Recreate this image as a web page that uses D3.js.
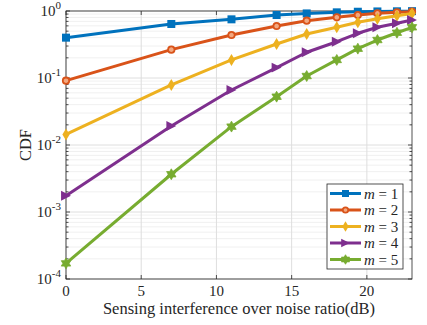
<!DOCTYPE html>
<html>
<head>
<meta charset="utf-8">
<script src="https://cdn.jsdelivr.net/npm/d3@7"></script>
<style>
  body { margin: 0; background: white; }
  text { font-family: "Liberation Serif", "DejaVu Serif", serif; fill: #262626; }
</style>
</head>
<body>
<script>

// data
var xVals = [0, 7, 11, 14, 16, 18, 19.4, 20.7, 22, 23];
var m1 = [0.40, 0.64, 0.751, 0.871, 0.92, 0.955, 0.975, 0.985, 0.99, 0.995];
var m2 = [0.0912, 0.265, 0.438, 0.597, 0.716, 0.805, 0.871, 0.923, 0.955, 0.977];
var m3 = [0.0144, 0.0787, 0.186, 0.322, 0.454, 0.571, 0.678, 0.767, 0.851, 0.92];
var m4 = [0.00175, 0.0192, 0.0662, 0.143, 0.242, 0.348, 0.465, 0.571, 0.655, 0.734];
var m5 = [0.000171, 0.00366, 0.0188, 0.0526, 0.107, 0.186, 0.274, 0.369, 0.474, 0.571];
var seriesNames = ["m = 1", "m = 2", "m = 3", "m = 4", "m = 5"];
var xTicks = [0, 5, 10, 15, 20];
var yExps = [0, -1, -2, -3, -4];

var width = 427, height = 325,
    margin = {top: 11, right: 15, bottom: 46, left: 66};
var pw = width - margin.left - margin.right,
    ph = height - margin.top - margin.bottom;

var colors = ["#0072BD", "#D95319", "#EDB120", "#7E2F8E", "#77AC30"];

var svg = d3.select("body").append("svg")
    .attr("width", width).attr("height", height);

var x = d3.scaleLinear().domain([0, 23]).range([0, pw]);
var y = d3.scaleLog().domain([1e-4, 1]).range([ph, 0]);

var g = svg.append("g").attr("transform", "translate(" + margin.left + "," + margin.top + ")");

// minor grid
var minor = [];
for (var e = -4; e < 0; e++) for (var k = 2; k <= 9; k++) minor.push(k * Math.pow(10, e));
g.selectAll("line.minor").data(minor).enter().append("line")
  .attr("x1", 0).attr("x2", pw)
  .attr("y1", function(d) { return y(d); }).attr("y2", function(d) { return y(d); })
  .attr("stroke", "#ececec").attr("stroke-width", 0.8);
// major grid
g.selectAll("line.gy").data(yExps).enter().append("line")
  .attr("x1", 0).attr("x2", pw)
  .attr("y1", function(d) { return y(Math.pow(10, d)); }).attr("y2", function(d) { return y(Math.pow(10, d)); })
  .attr("stroke", "#dedede").attr("stroke-width", 1);
g.selectAll("line.gx").data(xTicks).enter().append("line")
  .attr("y1", 0).attr("y2", ph)
  .attr("x1", function(d) { return x(d); }).attr("x2", function(d) { return x(d); })
  .attr("stroke", "#dedede").attr("stroke-width", 1);

// tick marks (inward, both sides)
var tk = g.append("g").attr("stroke", "#262626").attr("stroke-width", 0.8);
minor.forEach(function(d) {
  tk.append("line").attr("x1", 0).attr("x2", 2.5).attr("y1", y(d)).attr("y2", y(d));
  tk.append("line").attr("x1", pw).attr("x2", pw - 2.5).attr("y1", y(d)).attr("y2", y(d));
});
yExps.forEach(function(d) {
  tk.append("line").attr("x1", 0).attr("x2", 4).attr("y1", y(Math.pow(10, d))).attr("y2", y(Math.pow(10, d)));
  tk.append("line").attr("x1", pw).attr("x2", pw - 4).attr("y1", y(Math.pow(10, d))).attr("y2", y(Math.pow(10, d)));
});
xTicks.forEach(function(d) {
  tk.append("line").attr("x1", x(d)).attr("x2", x(d)).attr("y1", ph).attr("y2", ph - 4);
  tk.append("line").attr("x1", x(d)).attr("x2", x(d)).attr("y1", 0).attr("y2", 4);
});

// tick labels
g.selectAll("text.xt").data(xTicks).enter().append("text")
  .attr("x", function(d) { return x(d); }).attr("y", ph + 17)
  .attr("text-anchor", "middle").attr("font-size", 15)
  .text(function(d) { return d; });

var yl = g.selectAll("text.yt").data(yExps).enter().append("text")
  .attr("x", -5).attr("y", function(d) { return y(Math.pow(10, d)) + 5; })
  .attr("text-anchor", "end").attr("font-size", 15);
yl.append("tspan").text("10");
yl.append("tspan").attr("dy", -7).attr("font-size", 11).text(function(d) { return d; });

// axis labels
svg.append("text").attr("x", margin.left + pw / 2).attr("y", 314)
  .attr("text-anchor", "middle").attr("font-size", 16.5)
  .text("Sensing interference over noise ratio(dB)");
svg.append("text").attr("transform", "translate(31," + (margin.top + ph / 2) + ") rotate(-90)")
  .attr("text-anchor", "middle").attr("font-size", 16.5).text("CDF");

// box
g.append("rect").attr("width", pw).attr("height", ph)
  .attr("fill", "none").attr("stroke", "#262626").attr("stroke-width", 0.8);

function hexagram(r) {
  var p = [];
  for (var j = 0; j < 12; j++) {
    var rr = j % 2 === 0 ? r : r / Math.sqrt(3);
    var a = -Math.PI / 2 + j * Math.PI / 6;
    p.push([rr * Math.cos(a), rr * Math.sin(a)]);
  }
  return "M" + p.join("L") + "Z";
}

function marker(sel, i, s) {
  var c = colors[i];
  if (i === 0) {
    sel.append("rect").attr("x", -s / 2).attr("y", -s / 2).attr("width", s).attr("height", s).attr("fill", c);
  } else if (i === 1) {
    sel.append("circle").attr("r", s / 2 - 0.8).attr("fill", "#f2a880").attr("stroke", c).attr("stroke-width", 1.8);
  } else if (i === 2) {
    var a = s * 0.75;
    sel.append("path").attr("d", "M0," + (-a) + "L" + a * 0.6 + ",0L0," + a + "L" + (-a * 0.6) + ",0Z").attr("fill", c);
  } else if (i === 3) {
    var b = s * 0.62;
    sel.append("path").attr("d", "M" + b + ",0L" + (-b) + "," + (-b) + "L" + (-b) + "," + b + "Z").attr("fill", c);
  } else {
    sel.append("path").attr("d", hexagram(s * 0.68)).attr("fill", c)
      .attr("stroke", c).attr("stroke-width", 0.8).attr("stroke-linejoin", "round");
  }
}

var allSeries = [m1, m2, m3, m4, m5];
var line = d3.line().x(function(d) { return x(d[0]); }).y(function(d) { return y(d[1]); });

var plot = g.append("g");
allSeries.forEach(function(vals, i) {
  var pts = xVals.map(function(xv, j) { return [xv, vals[j]]; });
  plot.append("path").datum(pts).attr("d", line)
    .attr("fill", "none").attr("stroke", colors[i]).attr("stroke-width", 3)
    .attr("stroke-linejoin", "round");
  plot.selectAll(null).data(pts).enter().append("g")
    .attr("transform", function(d) { return "translate(" + x(d[0]) + "," + y(d[1]) + ")"; })
    .each(function() { marker(d3.select(this), i, 8); });
});

// legend
var lg = svg.append("g").attr("transform", "translate(327,184)");
lg.append("rect").attr("width", 76).attr("height", 85)
  .attr("fill", "white").attr("stroke", "#262626").attr("stroke-width", 0.8);
seriesNames.forEach(function(n, i) {
  var yy = 9.5 + i * 16.5;
  lg.append("line").attr("x1", 3).attr("x2", 34).attr("y1", yy).attr("y2", yy)
    .attr("stroke", colors[i]).attr("stroke-width", 3);
  var mk = lg.append("g").attr("transform", "translate(18.5," + yy + ")");
  marker(mk, i, 7);
  var t = lg.append("text").attr("x", 37).attr("y", yy + 5).attr("font-size", 15);
  t.append("tspan").attr("font-style", "italic").text("m");
  t.append("tspan").text(" = " + (i + 1));
});

</script>
</body>
</html>
